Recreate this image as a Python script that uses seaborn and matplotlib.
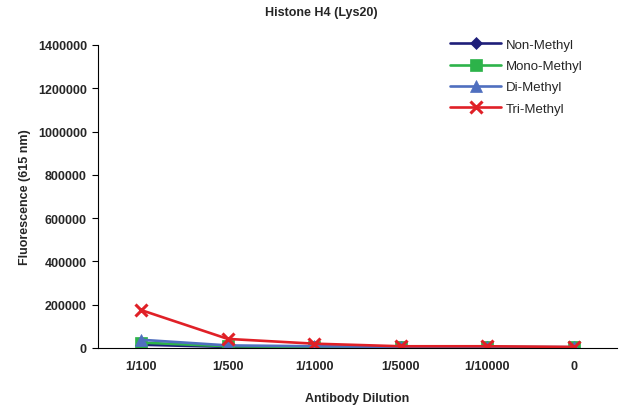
import matplotlib
matplotlib.use("Agg")
import matplotlib.pyplot as plt
import seaborn as sns
import pandas as pd
from matplotlib import font_manager

categories = ["1/100", "1/500", "1/1000", "1/5000", "1/10000", "0"]
non_methyl = [15000, 5000, 4000, 3000, 3000, 2000]
mono_methyl = [25000, 8000, 5000, 4000, 4000, 3000]
di_methyl = [38000, 12000, 8000, 5000, 5000, 4000]
tri_methyl = [175000, 42000, 20000, 8000, 8000, 5000]
series_names = ["Non-Methyl", "Mono-Methyl", "Di-Methyl", "Tri-Methyl"]
y_ticks = [0, 200000, 400000, 600000, 800000, 1000000, 1200000, 1400000]

sns.set_theme(style="white")
names = {f.name for f in font_manager.fontManager.ttflist}
fam = "Liberation Sans Narrow" if "Liberation Sans Narrow" in names else "Liberation Sans"
plt.rcParams["font.family"] = [fam, "DejaVu Sans"]

rows = []
for name, vals in zip(series_names, [non_methyl, mono_methyl, di_methyl, tri_methyl]):
    for i, (c, v) in enumerate(zip(categories, vals)):
        rows.append({"pos": i, "cat": c, "value": v, "series": name})
df = pd.DataFrame(rows)

palette = {"Non-Methyl": "#1f1f7a", "Mono-Methyl": "#2db34a",
           "Di-Methyl": "#4f6fbf", "Tri-Methyl": "#e02027"}
markers = {"Non-Methyl": "D", "Mono-Methyl": "s", "Di-Methyl": "^", "Tri-Methyl": "x"}
sizes = {"Non-Methyl": 6.5, "Mono-Methyl": 9, "Di-Methyl": 9, "Tri-Methyl": 9}

fig = plt.figure(figsize=(6.37, 4.10), dpi=100)
ax = fig.add_axes([98 / 637, 1 - 349 / 410, (617 - 98) / 637, (349 - 46) / 410])

for name in series_names:
    sub = df[df["series"] == name]
    mk = markers[name]
    sns.lineplot(data=sub, x="pos", y="value", ax=ax, color=palette[name],
                 marker=mk, markersize=sizes[name], linewidth=1.9,
                 markeredgewidth=2.2 if mk == "x" else 0.5,
                 markeredgecolor=palette[name], label=name)

ax.set_xlim(-0.5, len(categories) - 0.5)
ax.set_ylim(0, 1400000)
ax.set_yticks(y_ticks)
ax.set_yticklabels([str(t) for t in y_ticks], fontsize=9, fontweight="bold")
ax.set_xticks(range(len(categories)))
ax.set_xticklabels(categories, fontsize=9, fontweight="bold")
ax.tick_params(axis="x", which="major", length=0, pad=9)
ax.set_xticks([i - 0.5 for i in range(len(categories) + 1)], minor=True)
ax.tick_params(axis="x", which="minor", length=4, width=0.8, color="black", direction="out")
ax.tick_params(axis="y", length=4, width=0.8, color="black", direction="out", left=True, pad=4)

for s in ["top", "right"]:
    ax.spines[s].set_visible(False)
for s in ["left", "bottom"]:
    ax.spines[s].set_color("black")
    ax.spines[s].set_linewidth(0.8)

ax.set_xlabel("Antibody Dilution", fontsize=9, fontweight="bold", labelpad=14)
ax.set_ylabel("Fluorescence (615 nm)", fontsize=9, fontweight="bold", labelpad=5)
fig.suptitle("Histone H4 (Lys20)", x=0.505, y=0.982, fontsize=9, fontweight="bold")

leg = ax.legend(loc="upper right", bbox_to_anchor=(0.957, 1.06), frameon=False,
                fontsize=9.5, handlelength=3.9, labelspacing=0.68, handletextpad=0.35)
ax.grid(False)

fig.savefig("out.png", dpi=100)
